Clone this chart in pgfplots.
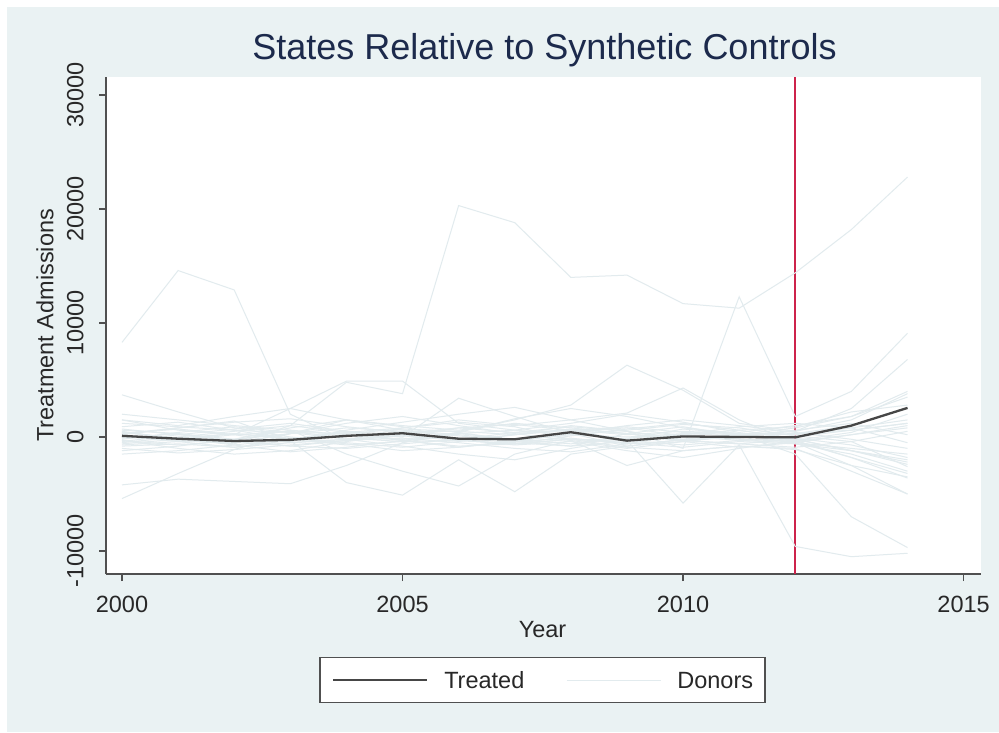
\documentclass[border=0pt]{standalone}
\usepackage{fontspec}
\setmainfont{Liberation Sans}
\usepackage{pgfplots}
\usepackage{pgfplotstable}
\pgfplotsset{compat=1.18}

\definecolor{bgblue}{RGB}{234,242,243}
\definecolor{titlenavy}{RGB}{28,42,76}
\definecolor{donorgray}{RGB}{226,235,238}
\definecolor{treatgray}{RGB}{70,70,70}
\definecolor{cutred}{RGB}{205,35,75}
\definecolor{axisgray}{RGB}{80,80,80}
\definecolor{labelgray}{RGB}{40,40,40}

% Gap between each donor state and its synthetic control, one row per state
\pgfplotstableread{
series 2000 2001 2002 2003 2004 2005 2006 2007 2008 2009 2010 2011 2012 2013 2014
o1   8300 14600 12900  2000  -300   300   800   400   600   200   500   300   200   800  1500
o2    500  -200  -600  1000  4800  3800 20300 18800 14000 14200 11700 11300 14400 18200 22800
o3   1500   600   200  2500  4900  4900  1200   600   200     0   300   100     0   600  1200
o4   3700  2200   800     0  -500  -900  -400   200   700   300  -300  -600  -200 -1200 -2400
o5  -4200 -3700 -3900 -4100 -2500  -500   300  -200  -600  -100   200  -200  -400 -1800 -3600
o6  -5400 -3200 -1100   300  1500  1000   600  1200   800   300  -400   200   300  1000  2600
o7    200   800  1400  -300 -4000 -5100 -2000 -4800 -1500  -800  -200   300  -600 -1200 -2000
o8   -300  -700  -300   600 -1500 -3000 -4300 -1500  -300 -2500 -1200  -800 -1000 -3000 -5000
o9   -500     0   500  1000   400     0  3400  1800   300  -800  -400  -900  -500   200   800
o10   100  -400  -200   300   800   500   500  1500  2800  6300  4100  1200   500  1500  3800
o11  -100   300  -400  -800  -300   800  1500  1000  1500  2100  4300  1500  -500 -1000 -1500
o12     0  -300   200   500  -100  -400  -300  -600  -200  -300 -5800  -700 -9600 -10500 -10200
o13   400  -100   300  -200   500   200  -300   200  1000   500 -1000 12300  1800  4000  9100
o14  -700  -400  -900  -300   200  -200   400  -300  -800   300   900   100   500  2500  6800
o15   300   700   200  -500  -200   500   100  -400  -100  -600  -300   200 -1500 -7000 -9700
o16  -400   200   700  1200   500  -300  -900  -300   500   800   100  -300  -500 -2500 -5000
b1   1200   900   600   400   300   700   500   200   600   900   400   200   800  1800  3500
b2   -800  -600  -900  -500  -200   100  -300  -600  -200  -500  -900  -400  -600 -1500 -3000
b3    600   300  -200  -800 -1000  -600  -200   400   900   500  -200  -100   300   600  1200
b4   -300 -1000 -1500 -1200  -400   200   800  1100   600  -300  -700  -300  -100  -700 -1800
b5   2000  1500  1000   600   200  -300  -800  -600   100   700  1200   600   900  2200  2800
b6  -1500 -1200  -700  -200   400   800  1300   900  -200  -900 -1200  -800 -1100 -2500 -3500
b7    300   800  1300  1600   900   400  -100  -500  -800  -400   200   900  1200   800  -500
b8   -600  -200   300  -100  -600 -1200  -900  -400   300  1000  1500  1000   400  -200 -1000
b9    900  1300   600  -200  -700  -400   400  1600  2500  1800   800   300  -300   400  2000
b10 -1000 -1400 -1100  -700  -300  -100  -500 -1000 -1300  -600   200   600  -200 -1200 -2200
b11   200  -300  -500   300  1200  1800  1000   300  -300 -1000  -400   100   600  1200   200
b12  1500  1000  1800  2500  1500   600   200  -300   200   600  1100   800   100  -400 -2600
b13  -200   400   900   400  -200  -800 -1500 -2000 -1000  -200   700   300  -400   200  1000
b14   700   200  -300  -400   600  1300  2000  2600  1500   500  -300  -600  -900  -400   500
b15 -1200  -800  -200   800  1500   900  -200  -700  -400 -1200 -1800 -1000  -300 -1800 -3200
b16   400  -100  -700 -1300  -900  -300   300   600  1200  2000  1300   400  1000  1800  4000
}\rawdonors
\pgfplotstabletranspose[colnames from=series]\donors{\rawdonors}

\begin{document}
\begin{tikzpicture}
\useasboundingbox (0,0) rectangle (999pt,732pt);
\fill[white] (0,0) rectangle (999pt,732pt);
\fill[bgblue] (7pt,0pt) rectangle (999pt,725pt);
\begin{axis}[
  at={(106pt,158pt)}, anchor=south west,
  scale only axis, width=875pt, height=497pt,
  xmin=1999.715, xmax=2015.31, ymin=-12018, ymax=31579,
  axis lines=left,
  axis line style={-, draw=axisgray, line width=1.3pt},
  axis background/.style={fill=white},
  xtick={2000,2005,2010,2015},
  ytick={-10000,0,10000,20000,30000},
  scaled y ticks=false,
  tick align=outside, major tick length=7pt,
  tick style={draw=axisgray, line width=1.3pt},
  /pgf/number format/1000 sep={},
  /pgf/number format/assume math mode=true,
  ticklabel style={font=\fontsize{23.5}{26}\selectfont, text=labelgray},
  xticklabel style={anchor=base},
  xticklabel shift=31.7pt,
  yticklabel style={rotate=90, anchor=base},
  yticklabel shift=15.6pt,
  title={States Relative to Synthetic Controls},
  title style={at={(axis description cs:0.5011,1)}, anchor=base, yshift=12pt,
    font=\fontsize{36}{40}\selectfont, text=titlenavy},
  xlabel={Year},
  xlabel style={at={(axis description cs:0.4989,0)}, anchor=base, yshift=-63pt,
    font=\fontsize{23.5}{26}\selectfont, text=labelgray},
  ylabel={Treatment Admissions},
  ylabel style={at={(axis description cs:-0.0601,0.5)}, anchor=base,
    font=\fontsize{23.5}{26}\selectfont, text=labelgray},
  legend columns=2,
  legend image code/.code={\draw[#1] (0pt,0pt) -- (94pt,0pt);},
  legend style={at={(axis description cs:0.4989,-0.2133)}, anchor=center,
    draw=axisgray, line width=1.3pt, fill=white,
    inner xsep=12pt, inner ysep=14pt,
    font=\fontsize{23.5}{26}\selectfont, text=labelgray,
    nodes={inner sep=0pt, text height=17pt, text depth=0pt},
    /tikz/every odd column/.style={column sep=16pt},
    /tikz/every even column/.style={column sep=42pt}},
  donor/.style={donorgray, line width=1pt},
  treated/.style={treatgray, line width=2.3pt},
]
% policy year
\addplot[cutred, line width=2pt, forget plot] coordinates {(2012,-12018) (2012,31579)};
% donor pool
\pgfplotsinvokeforeach{o1,o2,o3,o4,o5,o6,o7,o8,o9,o10,o11,o12,o13,o14,o15,o16,
  b1,b2,b3,b4,b5,b6,b7,b8,b9,b10,b11,b12,b13,b14,b15,b16}{
  \addplot[donor, forget plot] table[x=colnames, y=#1] {\donors};
}
% treated state
\addplot[treated, forget plot] coordinates {
  (2000,100) (2001,-150) (2002,-350) (2003,-250) (2004,100) (2005,330)
  (2006,-150) (2007,-200) (2008,420) (2009,-320) (2010,50) (2011,0)
  (2012,-30) (2013,1000) (2014,2550)};
\addlegendimage{treated}
\addlegendentry{Treated}
\addlegendimage{donor}
\addlegendentry{Donors}
\end{axis}
\end{tikzpicture}
\end{document}
